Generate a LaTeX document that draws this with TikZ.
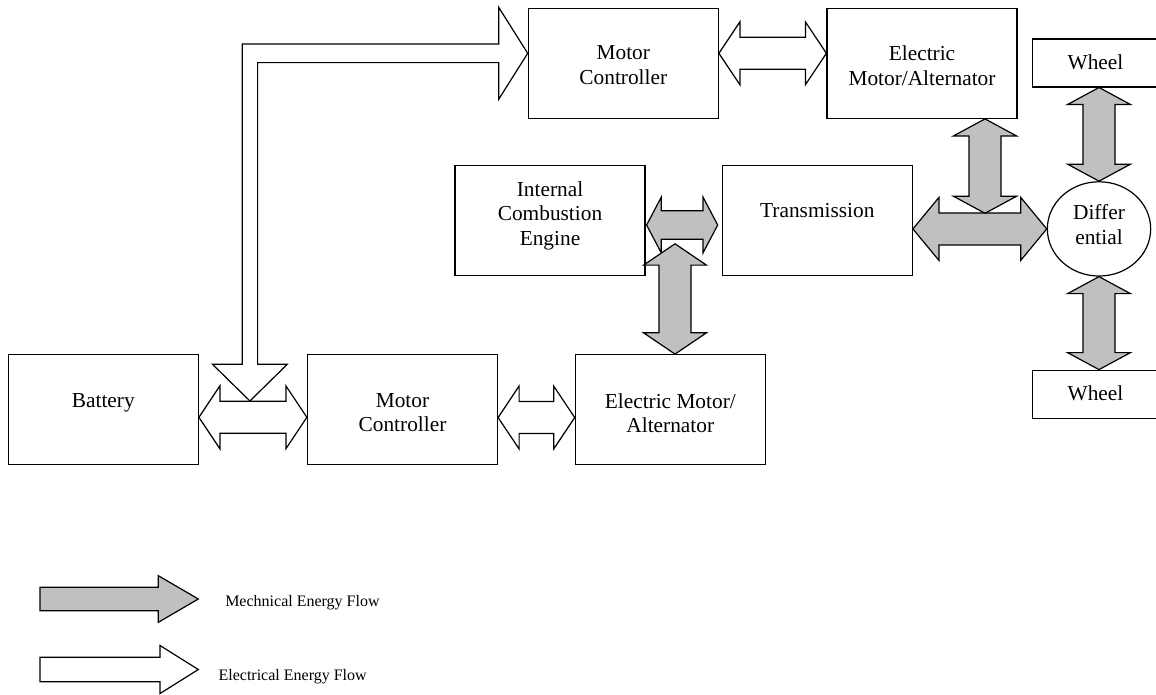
\documentclass[tikz,border=0pt]{standalone}
\usepackage{fontspec}
\setmainfont{Liberation Serif}
\usepackage{tikz}
\usetikzlibrary{calc}
\usetikzlibrary{shapes.geometric}
\definecolor{mechgray}{RGB}{192,192,192}
\tikzset{unitbox/.style={rectangle, draw=black, line width=0.9pt, inner sep=0pt, minimum width=142.5pt, minimum height=82.5pt}}
\tikzset{wheelbox/.style={rectangle, draw=black, line width=0.9pt, inner sep=0pt, minimum width=94.8pt, minimum height=36pt}}
\tikzset{boxtext/.style={anchor=north, inner sep=0pt, align=center, font=\fontsize{16}{18.2}\selectfont}}
\tikzset{keytext/.style={anchor=base west, inner sep=0pt, font=\fontsize{12}{14}\selectfont}}
\tikzset{flowhead/.store in=\flowhead, flowhw/.store in=\flowhw, flowsw/.store in=\flowsw, flowhead=15.75pt, flowhw=23.6pt, flowsw=12pt}
\tikzset{elec/.style={draw=black, line width=0.9pt, fill=white}}
\tikzset{mech/.style={draw=black, line width=0.9pt, fill=mechgray}}
% double block arrow, left end to right end, at the height of the left end
\newcommand{\hflow}[3][]{%
  \draw[#1] let \p1=(#2), \p2=(#3) in
    (\x1,\y1) -- (\x1+\flowhead,\y1+\flowhw) -- (\x1+\flowhead,\y1+\flowsw) -- (\x2-\flowhead,\y1+\flowsw) -- (\x2-\flowhead,\y1+\flowhw) -- (\x2,\y1)
    -- (\x2-\flowhead,\y1-\flowhw) -- (\x2-\flowhead,\y1-\flowsw) -- (\x1+\flowhead,\y1-\flowsw) -- (\x1+\flowhead,\y1-\flowhw) -- cycle;}
% double block arrow, upper end to lower end, at the x of the upper end
\newcommand{\vflow}[3][]{%
  \draw[#1] let \p1=(#2), \p2=(#3) in
    (\x1,\y1) -- (\x1+\flowhw,\y1-\flowhead) -- (\x1+\flowsw,\y1-\flowhead) -- (\x1+\flowsw,\y2+\flowhead) -- (\x1+\flowhw,\y2+\flowhead) -- (\x1,\y2)
    -- (\x1-\flowhw,\y2+\flowhead) -- (\x1-\flowsw,\y2+\flowhead) -- (\x1-\flowsw,\y1-\flowhead) -- (\x1-\flowhw,\y1-\flowhead) -- cycle;}
% single block arrow, tail to tip
\newcommand{\rflow}[3][]{%
  \draw[#1] let \p1=(#2), \p2=(#3) in
    (\x1,\y1+\flowsw) -- (\x2-\flowhead,\y1+\flowsw) -- (\x2-\flowhead,\y1+\flowhw) -- (\x2,\y1)
    -- (\x2-\flowhead,\y1-\flowhw) -- (\x2-\flowhead,\y1-\flowsw) -- (\x1,\y1-\flowsw) -- cycle;}

\begin{document}
\begin{tikzpicture}[x=0.75pt, y=-0.75pt]
    \useasboundingbox (0,0) rectangle (1156,694);

    \node [unitbox, label={[boxtext, yshift=-28.5pt]north:{Motor\\Controller}}](mcu) at (623.3,63.3){};
    \node [unitbox, label={[boxtext, yshift=-28.5pt]north:{Electric\\Motor/Alternator}}](emu) at (922,63.3){};
    \node [unitbox, label={[boxtext, yshift=-12.5pt]north:{Internal\\Combustion\\Engine}}](ice) at (550,220.5){};
    \node [unitbox, label={[boxtext, yshift=-28.2pt]north:{Transmission}}](trans) at (817.3,220.8){};
    \node [unitbox, label={[boxtext, yshift=-29.25pt]north:{Battery}}](battery) at (103.3,409.7){};
    \node [unitbox, label={[boxtext, yshift=-29.25pt]north:{Motor\\Controller}}](mcl) at (402.5,409.7){};
    \node [unitbox, label={[boxtext, yshift=-29.25pt]north:{Electric Motor/\\Alternator}}](eml) at (670.3,409.7){};
    \node [wheelbox, label={[boxtext, yshift=-12pt]north:{Wheel}}](wheeltop) at (1095.5,62.9){};
    \node [wheelbox, label={[boxtext, yshift=-12pt]north:{Wheel}}](wheelbot) at (1095.5,394.2){};
    \node [draw, ellipse, line width=0.9pt, inner sep=0pt, minimum width=77.5pt, minimum height=70.7pt,
           label={[boxtext, yshift=-17.5pt]north:{Differ\\ential}}](diff) at (1099,228.9){};

    %electrical flow
    \hflow[elec]{$(battery.east)+(0,7.6)$}{mcl.west}
    \hflow[elec]{$(mcl.east)+(0,7.8)$}{eml.west}
    \hflow[elec]{$(mcu.east)+(0,-10)$}{emu.west}
    \coordinate (btip) at ($(battery.east)!0.5!(mcl.west)+(-3,-8.7)$);
    \coordinate (etip) at ($(mcu.west)+(0,-10)$);
    \draw[elec] let \p1=(btip), \p2=(etip) in
      (\x1,\y1) -- (\x1+28pt,\y1+27.5pt) -- (\x1+5.8pt,\y1+27.5pt) -- (\x1+5.8pt,\y2-7pt) -- (\x2-21.75pt,\y2-7pt) -- (\x2-21.75pt,\y2-34.5pt) -- (\x2,\y2)
      -- (\x2-21.75pt,\y2+34.5pt) -- (\x2-21.75pt,\y2+7pt) -- (\x1-5.8pt,\y2+7pt) -- (\x1-5.8pt,\y1+27.5pt) -- (\x1-28pt,\y1+27.5pt) -- cycle;

    %mechanical flow
    \hflow[mech, flowhead=11pt, flowhw=20.9pt, flowsw=10.7pt]{$(ice.east)+(1,4.5)$}{$(trans.west)+(-4,0)$}
    \hflow[mech, flowhead=19.5pt]{trans.east |- diff.west}{diff.west}
    \vflow[mech, flowhead=12.75pt]{$(emu.south)+(63,0)$}{$(emu.south)+(63,94.4)$}
    \vflow[mech, flowhead=16pt]{$(eml.north)+(4.7,-110.3)$}{$(eml.north)+(4.7,0)$}
    \vflow[mech, flowhead=12.75pt]{wheeltop.south -| diff.north}{diff.north}
    \vflow[mech, flowhead=12.75pt]{diff.south}{diff.south |- wheelbot.north}

    %legend
    \coordinate (mechtail) at (40,599);
    \coordinate (mechtip) at (198.3,599);
    \coordinate (electail) at (40,669.5);
    \coordinate (electip) at (198.3,669.5);
    \rflow[mech, flowhead=30pt, flowhw=17.5pt, flowsw=8.8pt]{mechtail}{mechtip}
    \rflow[elec, flowhead=28.7pt, flowhw=18pt, flowsw=9.15pt]{electail}{electip}
    \node [keytext](mechkey) at (225,606){Mechnical Energy Flow};
    \node [keytext](eleckey) at (218.3,680){Electrical Energy Flow};
\end{tikzpicture}
\end{document}
